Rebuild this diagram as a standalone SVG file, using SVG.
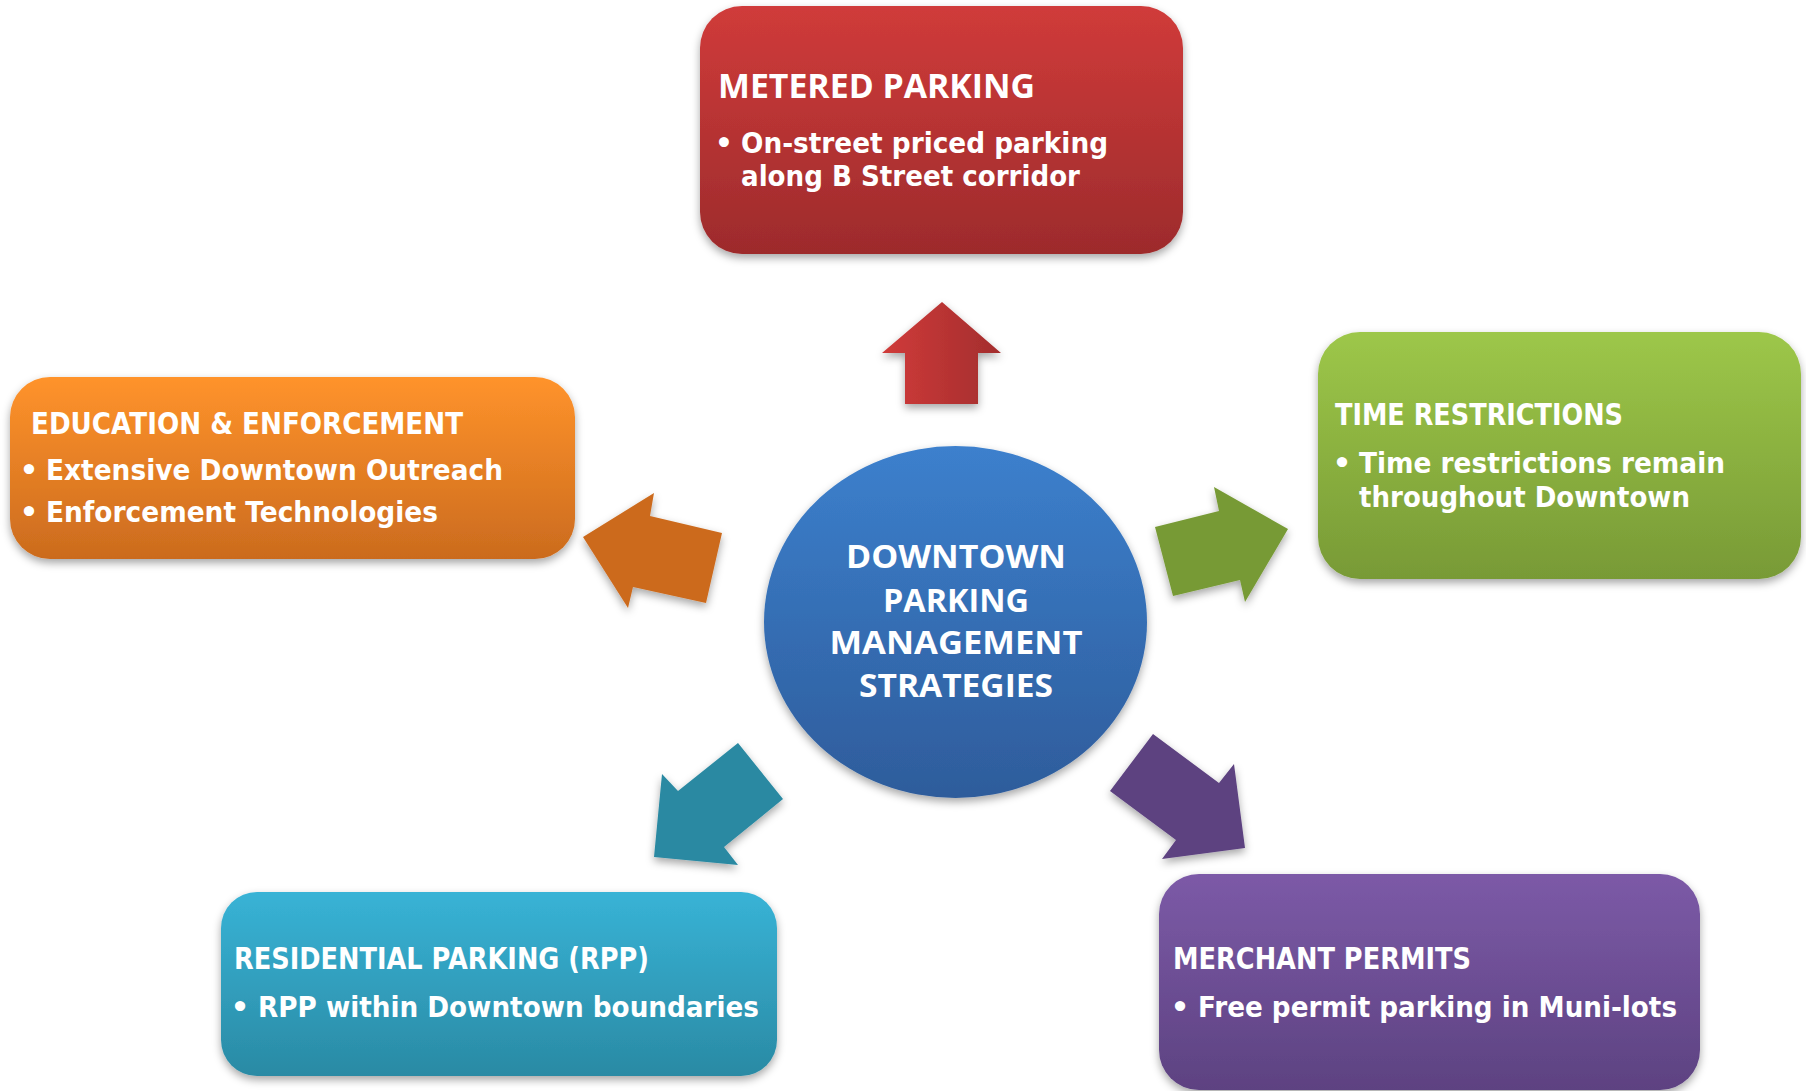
<svg xmlns="http://www.w3.org/2000/svg" width="1806" height="1091" viewBox="0 0 1806 1091">
<defs>
<linearGradient id="gRed" x1="0" y1="0" x2="0" y2="1"><stop offset="0" stop-color="#D03B3A"/><stop offset="1" stop-color="#9D2B2C"/></linearGradient>
<linearGradient id="gRedA" x1="0" y1="0" x2="1" y2="0"><stop offset="0" stop-color="#D03B3A"/><stop offset="1" stop-color="#A32D2D"/></linearGradient>
<linearGradient id="gOrange" x1="0" y1="0" x2="0" y2="1"><stop offset="0" stop-color="#FF932B"/><stop offset="1" stop-color="#CB6B1E"/></linearGradient>
<linearGradient id="gGreen" x1="0" y1="0" x2="0" y2="1"><stop offset="0" stop-color="#9DC749"/><stop offset="1" stop-color="#789A36"/></linearGradient>
<linearGradient id="gBlue" x1="0" y1="0" x2="0" y2="1"><stop offset="0" stop-color="#3C80CD"/><stop offset="1" stop-color="#2E5C9B"/></linearGradient>
<linearGradient id="gTeal" x1="0" y1="0" x2="0" y2="1"><stop offset="0" stop-color="#38B3D6"/><stop offset="1" stop-color="#2A8AA4"/></linearGradient>
<linearGradient id="gPurple" x1="0" y1="0" x2="0" y2="1"><stop offset="0" stop-color="#7C5AA7"/><stop offset="1" stop-color="#5D4281"/></linearGradient>
<filter id="sh" x="-10%" y="-10%" width="120%" height="130%"><feDropShadow dx="0" dy="4" stdDeviation="4" flood-color="#000" flood-opacity="0.35"/></filter>
</defs>
<style>
text{fill:#fff;font-family:"DejaVu Sans","Liberation Sans",sans-serif;font-weight:bold}
.t{font-size:31px}
.b{font-size:29px}
.c{font-size:33px;font-family:"Open Sans","DejaVu Sans",sans-serif;text-anchor:middle}
.m{font-size:34px;font-family:"Open Sans","DejaVu Sans",sans-serif}
.mb{font-size:28px}
.d{text-anchor:middle}
</style>
<rect width="1806" height="1091" fill="#fff"/>
<g id="connectors" filter="url(#sh)">
<polygon points="942,302 1001,353 978,353 978,404 905,404 905,353 882,353" fill="url(#gRedA)"/>
<polygon points="583,537 654,493 650,516 722,533 706,603 633,587 628,608" fill="#CC6B1E"/>
<polygon points="1155,527 1219,511 1214,487 1288,529 1245,602 1240,580 1173,596" fill="#779A35"/>
<polygon points="662,774 678,791 738,743 783,799 724,847 738,865 654,857" fill="#2A89A2"/>
<polygon points="1153,734 1219,783 1234,764 1245,848 1162,859 1176,840 1110,791" fill="#5D4280"/>
</g>
<g id="center">
<ellipse cx="955.5" cy="622" rx="191.5" ry="176" fill="url(#gBlue)" filter="url(#sh)"/>
<text class="c" x="956" y="568" textLength="220" lengthAdjust="spacingAndGlyphs">DOWNTOWN</text>
<text class="c" x="956" y="612" textLength="146" lengthAdjust="spacingAndGlyphs">PARKING</text>
<text class="c" x="956" y="654" textLength="253" lengthAdjust="spacingAndGlyphs">MANAGEMENT</text>
<text class="c" x="956" y="697" textLength="194" lengthAdjust="spacingAndGlyphs">STRATEGIES</text>
</g>
<g id="metered">
<rect x="700" y="6" width="483" height="248" rx="42" fill="url(#gRed)" filter="url(#sh)"/>
<text class="m" x="718" y="98" textLength="317" lengthAdjust="spacingAndGlyphs">METERED PARKING</text>
<text class="mb d" x="724" y="153">•</text>
<text class="mb" x="741" y="153" textLength="367" lengthAdjust="spacingAndGlyphs">On-street priced parking</text>
<text class="mb" x="741" y="186" textLength="339" lengthAdjust="spacingAndGlyphs">along B Street corridor</text>
</g>
<g id="education">
<rect x="10" y="377" width="565" height="182" rx="40" fill="url(#gOrange)" filter="url(#sh)"/>
<text class="t" x="31" y="434" textLength="432" lengthAdjust="spacingAndGlyphs">EDUCATION &amp; ENFORCEMENT</text>
<text class="b d" x="29" y="480">•</text>
<text class="b" x="46" y="480" textLength="457" lengthAdjust="spacingAndGlyphs">Extensive Downtown Outreach</text>
<text class="b d" x="29" y="522">•</text>
<text class="b" x="46" y="522" textLength="392" lengthAdjust="spacingAndGlyphs">Enforcement Technologies</text>
</g>
<g id="time">
<rect x="1318" y="332" width="483" height="247" rx="42" fill="url(#gGreen)" filter="url(#sh)"/>
<text class="t" x="1335" y="425" textLength="288" lengthAdjust="spacingAndGlyphs">TIME RESTRICTIONS</text>
<text class="b d" x="1342" y="473">•</text>
<text class="b" x="1359" y="473" textLength="366" lengthAdjust="spacingAndGlyphs">Time restrictions remain</text>
<text class="b" x="1359" y="507" textLength="331" lengthAdjust="spacingAndGlyphs">throughout Downtown</text>
</g>
<g id="residential">
<rect x="221" y="892" width="556" height="184" rx="36" fill="url(#gTeal)" filter="url(#sh)"/>
<text class="t" x="234" y="969" textLength="415" lengthAdjust="spacingAndGlyphs">RESIDENTIAL PARKING (RPP)</text>
<text class="b d" x="240" y="1017">•</text>
<text class="b" x="258" y="1017" textLength="501" lengthAdjust="spacingAndGlyphs">RPP within Downtown boundaries</text>
</g>
<g id="merchant">
<rect x="1159" y="874" width="541" height="216" rx="40" fill="url(#gPurple)" filter="url(#sh)"/>
<text class="t" x="1173" y="969" textLength="298" lengthAdjust="spacingAndGlyphs">MERCHANT PERMITS</text>
<text class="b d" x="1180" y="1017">•</text>
<text class="b" x="1198" y="1017" textLength="479" lengthAdjust="spacingAndGlyphs">Free permit parking in Muni-lots</text>
</g>
</svg>
